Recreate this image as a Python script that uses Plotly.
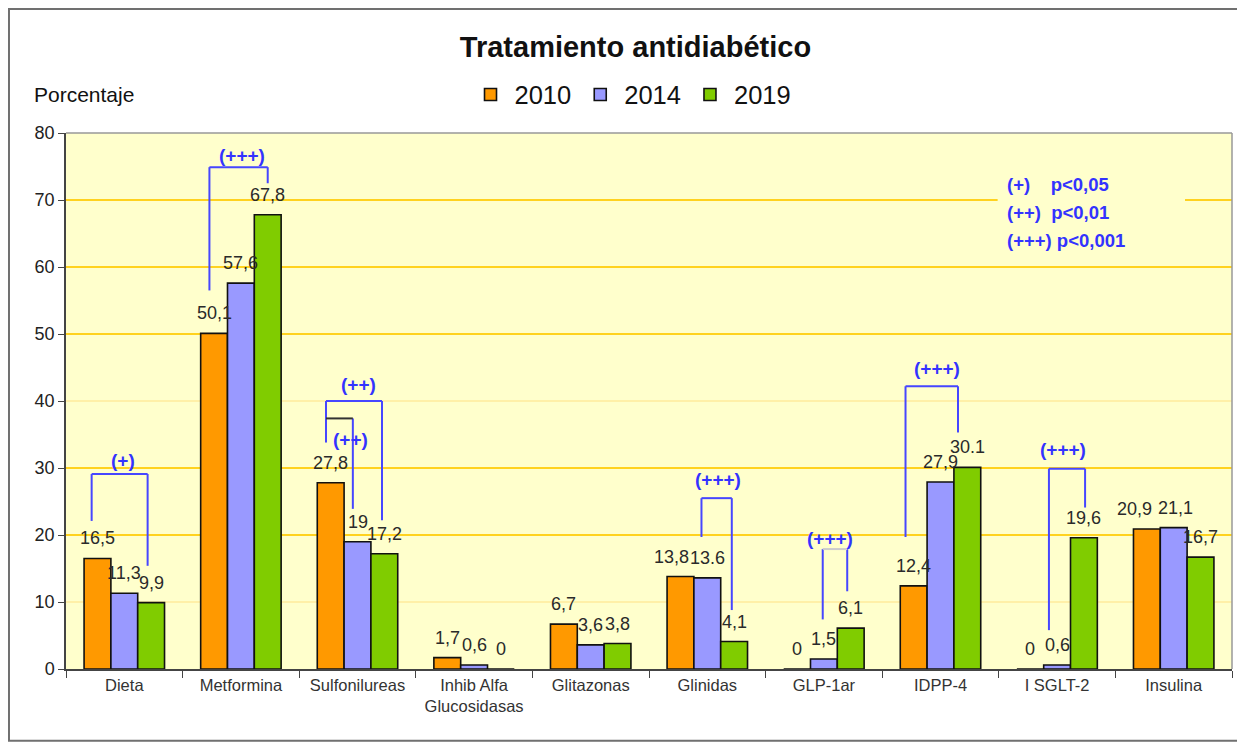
import plotly.graph_objects as go

categories = ["Dieta", "Metformina", "Sulfonilureas", "Inhib Alfa<br>Glucosidasas",
              "Glitazonas", "Glinidas", "GLP-1ar", "IDPP-4", "I SGLT-2", "Insulina"]
years = ["2010", "2014", "2019"]
v2010 = [16.5, 50.1, 27.8, 1.7, 6.7, 13.8, 0, 12.4, 0, 20.9]
v2014 = [11.3, 57.6, 19.0, 0.6, 3.6, 13.6, 1.5, 27.9, 0.6, 21.1]
v2019 = [9.9, 67.8, 17.2, 0, 3.8, 4.1, 6.1, 30.1, 19.6, 16.7]
t2010 = ["16,5", "50,1", "27,8", "1,7", "6,7", "13,8", "0", "12,4", "0", "20,9"]
t2014 = ["11,3", "57,6", "19", "0,6", "3,6", "13.6", "1,5", "27,9", "0,6", "21,1"]
t2019 = ["9,9", "67,8", "17,2", "0", "3,8", "4,1", "6,1", "30.1", "19,6", "16,7"]
colors = ["#FF9900", "#9999FF", "#80CC00"]

# significance brackets: category index, left/right leg offsets, top y, left/right leg bottoms, label, label x offset, label y
br_cat = [0, 1, 2, 2, 5, 6, 7, 8]
br_xl = [-0.28, -0.27, -0.27, -0.27, -0.05, -0.01, -0.30, -0.07]
br_xr = [0.20, 0.23, 0.21, -0.04, 0.21, 0.20, 0.15, 0.24]
br_top = [29.1, 74.9, 40.0, 37.4, 25.5, 17.9, 42.2, 29.9]
br_yl = [22.1, 56.5, 33.8, 37.4, 19.7, 7.4, 19.7, 5.8]
br_yr = [15.4, 72.5, 22.2, 23.9, 8.8, 11.6, 35.3, 24.1]
br_lab = ["(+)", "(+++)", "(++)", "(++)", "(+++)", "(+++)", "(+++)", "(+++)"]
br_tx = [-0.01, 0.01, 0.01, -0.06, 0.09, 0.05, -0.03, 0.05]
br_ty = [31.1, 76.6, 42.5, 34.2, 28.3, 19.5, 44.8, 32.8]
br_topcol = ["#4646FF", "#4646FF", "#4646FF", "#333333", "#4646FF", "#CCCCCC", "#4646FF", "#4646FF"]

sig_legend = ["(+)    p<0,05", "(++)  p<0,01", "(+++) p<0,001"]

grid_strong = [20, 30, 50, 60, 70]
grid_faint = [10, 40]

# small horizontal nudges of a few value labels (series index, category index) -> px
label_nudge = {(0, 5): -9, (0, 9): -12, (1, 9): 2}

BLUE = "#4646FF"
FONT = "Liberation Sans, Arial, sans-serif"
BARGAP = 0.31
BW = (1 - BARGAP) / 3

fig = go.Figure()
for name, vals, col in zip(years, [v2010, v2014, v2019], colors):
    fig.add_trace(go.Bar(
        x=categories, y=vals, name=name,
        marker=dict(color=col, line=dict(color="#111111", width=1.6)),
        hoverinfo="x+y",
    ))

annotations = []
# value labels above bars
for j, (vals, txt) in enumerate(zip([v2010, v2014, v2019], [t2010, t2014, t2019])):
    for i, (v, t) in enumerate(zip(vals, txt)):
        annotations.append(dict(x=i + (j - 1) * BW, y=v, xref="x", yref="y", text=t,
                                showarrow=False, yanchor="bottom", yshift=8,
                                xshift=label_nudge.get((j, i), 0),
                                font=dict(family=FONT, size=18, color="#2a2a2a")))

shapes = []
for g in grid_strong:
    shapes.append(dict(type="line", xref="paper", yref="y", x0=0, x1=1, y0=g, y1=g,
                       line=dict(color="#FFD21F", width=2), layer="below"))
for g in grid_faint:
    shapes.append(dict(type="line", xref="paper", yref="y", x0=0, x1=1, y0=g, y1=g,
                       line=dict(color="#FFF0A8", width=2), layer="below"))
# background box behind significance legend (hides the gridline)
shapes.append(dict(type="rect", xref="paper", yref="paper", x0=0.799, x1=0.9597, y0=0.778, y1=0.931,
                   fillcolor="#FFFFCC", line=dict(width=0), layer="below"))

for c, xl, xr, top, yl, yr, lab, tx, ty, tc in zip(br_cat, br_xl, br_xr, br_top, br_yl, br_yr,
                                                    br_lab, br_tx, br_ty, br_topcol):
    shapes.append(dict(type="line", xref="x", yref="y", x0=c + xl, x1=c + xl, y0=yl, y1=top,
                       line=dict(color=BLUE, width=2)))
    shapes.append(dict(type="line", xref="x", yref="y", x0=c + xr, x1=c + xr, y0=yr, y1=top,
                       line=dict(color=BLUE, width=2)))
    shapes.append(dict(type="line", xref="x", yref="y", x0=c + xl, x1=c + xr, y0=top, y1=top,
                       line=dict(color=tc, width=2)))
    annotations.append(dict(x=c + tx, y=ty, xref="x", yref="y", text="<b>" + lab + "</b>",
                            showarrow=False, font=dict(family=FONT, size=19, color="#3333FF")))

# plot-area top/right border and outer frame
shapes.append(dict(type="line", xref="paper", yref="paper", x0=0, x1=1, y0=1, y1=1,
                   line=dict(color="#999999", width=1.5)))
shapes.append(dict(type="line", xref="paper", yref="paper", x0=1, x1=1, y0=0, y1=1,
                   line=dict(color="#999999", width=1.5)))
shapes.append(dict(type="rect", xref="paper", yref="paper", x0=-0.0489, x1=1.0077, y0=-0.134, y1=1.2313,
                   line=dict(color="#707070", width=2)))

for k, (s, yy) in enumerate(zip(sig_legend, [0.903, 0.8526, 0.800])):
    annotations.append(dict(
        x=0.8053, y=yy, xref="paper", yref="paper", xanchor="left", yanchor="middle",
        text="<b>" + s + "</b>", align="left", showarrow=False,
        font=dict(family=FONT, size=18.5, color="#3333FF")))
annotations.append(dict(
    x=-0.029, y=1.071, xref="paper", yref="paper", xanchor="left", yanchor="middle",
    text="Porcentaje", showarrow=False, font=dict(family=FONT, size=21, color="#111111")))

fig.update_layout(
    width=1245, height=743,
    margin=dict(l=58, r=21, t=125, b=82),
    paper_bgcolor="white", plot_bgcolor="#FFFFCC",
    barmode="group", bargap=BARGAP, bargroupgap=0,
    title=dict(text="<b>Tratamiento antidiabético</b>", x=0.504, xanchor="center",
               y=0.9475, yanchor="middle", font=dict(family=FONT, size=29, color="#111111")),
    legend=dict(orientation="h", x=0.485, xanchor="center", y=1.071, yanchor="middle",
                font=dict(family=FONT, size=25.5, color="#111111"), bgcolor="rgba(0,0,0,0)",
                itemwidth=38, traceorder="normal"),
    font=dict(family=FONT),
    shapes=shapes, annotations=annotations,
    xaxis=dict(range=[-0.5, 9.5], showgrid=False, showline=True, linecolor="#444444", linewidth=1.5,
               ticks="outside", tickson="boundaries", ticklen=7, tickcolor="#444444",
               tickfont=dict(family=FONT, size=16.5, color="#333333"), fixedrange=True),
    yaxis=dict(range=[0, 80], dtick=10, showgrid=False, zeroline=False, showline=True,
               linecolor="#444444", linewidth=1.5, ticks="outside", ticklen=6, tickcolor="#444444",
               tickfont=dict(family=FONT, size=18, color="#222222"), fixedrange=True),
)

fig.write_html("out.html")
